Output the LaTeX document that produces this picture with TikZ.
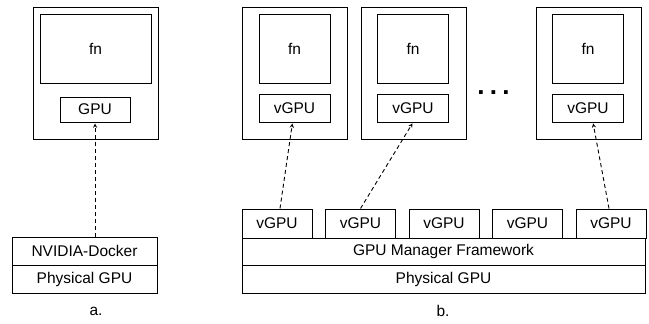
\documentclass[tikz,border=0pt]{standalone}
\usepackage{fontspec}
\setmainfont{Liberation Sans}
\usetikzlibrary{calc}

\tikzset{
	box/.style={draw, line width=1pt, inner sep=0pt, minimum width=#1},
	box/.default=70pt,
	link/.style={-stealth, line width=0.9pt, dash pattern=on 4pt off 3pt, shorten >=1pt},
}

\begin{document}
\begin{tikzpicture}[x=1pt, y=-1pt, font=\fontsize{15.5}{18}\selectfont]
		\useasboundingbox (0,0) rectangle (649,324);

		% a. nvidia-docker
		\node[box=125pt, minimum height=132pt] (conta) at (95.5,73) {};
		\node[box=111pt, minimum height=69pt] (fna) at (95.5,48.5) {fn};
		\node[box, minimum height=25pt] (gpua) at (95,109.5) {GPU};
		\node[box=145pt, minimum height=28pt] (dock) at (84.5,251) {NVIDIA-Docker};
		\node[box=145pt, minimum height=28pt] (physa) at (84.5,279) {Physical GPU};
		\draw[link] (dock.north -| gpua) -- (gpua.south);
		\node (capa) at (96,311) {a.};

		% b. gpu manager
		\foreach \n/\x/\fx in {1/294.5/294.5, 2/414/413, 4/588.5/588} {
			\node[box=105pt, minimum height=132pt] (cont\n) at (\x,73) {};
			\node[box=71pt, minimum height=69pt] (fn\n) at (\fx,48.5) {fn};
			\node[box=71pt, minimum height=28pt] (g\n) at (\fx,108) {vGPU};
		}
		\node[font=\fontsize{26}{28}\selectfont\bfseries] (dots) at (493.5,93) {.\hspace{5.3pt}.\hspace{5.3pt}.};

		\foreach \i in {1,...,5}
			\node[box, minimum height=29pt] (v\i) at ({277+83.5*(\i-1)},223.5) {vGPU};
		\node[box=403pt, minimum height=27pt] (mgr) at (443.5,251.5) {GPU Manager Framework};
		\node[box=403pt, minimum height=28pt] (physb) at (443.5,279) {Physical GPU};

		\draw[link] ($(v1.north)+(3,0)$) -- ($(g1.south)+(-2,0)$);
		\draw[link] (v2.north) -- (g2.south);
		\draw[link] ($(v5.north)+(-2,0)$) -- ($(g4.south)+(5,0)$);
		\node (capb) at (443,311) {b.};
	\end{tikzpicture}
\end{document}
